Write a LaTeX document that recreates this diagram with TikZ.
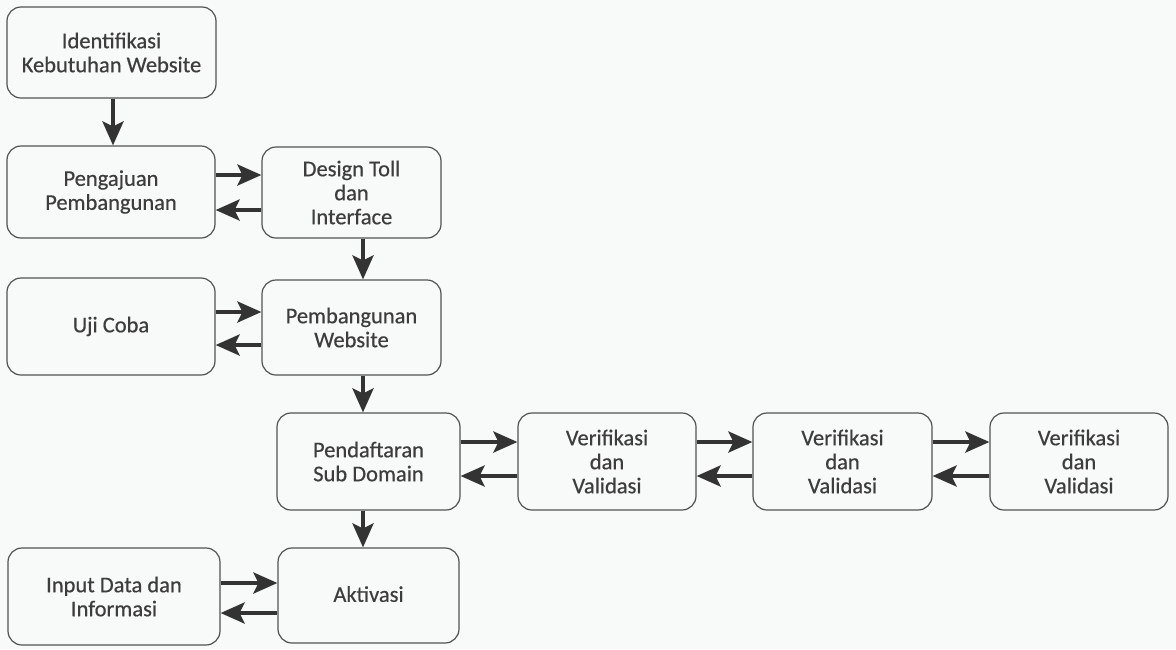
\documentclass[tikz,border=0pt]{standalone}
\usepackage{fontspec}
\setmainfont{Carlito}
\newfontfamily\boxfont{Carlito}[FakeBold=0.5]
\usetikzlibrary{arrows.meta}
\definecolor{ink}{HTML}{333333}
\definecolor{bg}{HTML}{F8FAFA}
\begin{document}
\begin{tikzpicture}[x=1pt,y=-1pt,
  box/.style={draw=ink!85, line width=1.2pt, rounded corners=14pt, fill=bg,
    inner sep=0pt, align=center, text=ink!95,
    font=\boxfont\fontsize{22.5}{24}\selectfont},
  arr/.style={draw=ink, line width=4pt,
    -{Stealth[length=24pt,width=21pt,inset=5pt]}}]
\fill[bg] (0,0) rectangle (1176,649);
\useasboundingbox (0,0) rectangle (1176,649);
\node[box, minimum width=209pt, minimum height=91pt] (ident) at (111.5,52.5) {Identifikasi\\Kebutuhan Website};
\node[box, minimum width=208pt, minimum height=92pt] (peng) at (111,192) {Pengajuan\\Pembangunan};
\node[box, minimum width=179pt, minimum height=91pt] (design) at (351.5,192.5) {Design Toll\\dan\\Interface};
\node[box, minimum width=208pt, minimum height=97pt] (uji) at (111,326.5) {\raisebox{4pt}{Uji Coba}};
\node[box, minimum width=179pt, minimum height=95pt] (pemb) at (351.5,327.5) {Pembangunan\\Website};
\node[box, minimum width=183pt, minimum height=97pt] (pend) at (368.5,461.5) {Pendaftaran\\Sub Domain};
\node[box, minimum width=178pt, minimum height=97pt] (v1) at (607,461.5) {Verifikasi\\dan\\Validasi};
\node[box, minimum width=179pt, minimum height=97pt] (v2) at (842.5,461.5) {Verifikasi\\dan\\Validasi};
\node[box, minimum width=178pt, minimum height=97pt] (v3) at (1079,461.5) {Verifikasi\\dan\\Validasi};
\node[box, minimum width=212pt, minimum height=97pt] (input) at (114,596.5) {Input Data dan\\Informasi};
\node[box, minimum width=181pt, minimum height=95pt] (akt) at (368.5,595.5) {\raisebox{3pt}{Aktivasi}};
\coordinate (col) at (363,0);
\coordinate (c1) at (113,0);
% vertical
\draw[arr] (ident.south -| c1) -- (peng.north -| c1);
\draw[arr] (design.south -| col) -- (pemb.north -| col);
\draw[arr] (pemb.south -| col) -- (pend.north -| col);
\draw[arr] (pend.south -| col) -- (akt.north -| col);
% horizontal pairs
\coordinate (r1a) at (0,175); \coordinate (r1b) at (0,210);
\draw[arr] (peng.east |- r1a) -- (design.west |- r1a);
\draw[arr] (design.west |- r1b) -- (peng.east |- r1b);
\coordinate (r2a) at (0,312); \coordinate (r2b) at (0,345);
\draw[arr] (uji.east |- r2a) -- (pemb.west |- r2a);
\draw[arr] (pemb.west |- r2b) -- (uji.east |- r2b);
\coordinate (r3a) at (0,442); \coordinate (r3b) at (0,476);
\draw[arr] (pend.east |- r3a) -- (v1.west |- r3a);
\draw[arr] (v1.west |- r3b) -- (pend.east |- r3b);
\draw[arr] (v1.east |- r3a) -- (v2.west |- r3a);
\draw[arr] (v2.west |- r3b) -- (v1.east |- r3b);
\draw[arr] (v2.east |- r3a) -- (v3.west |- r3a);
\draw[arr] (v3.west |- r3b) -- (v2.east |- r3b);
\coordinate (r4a) at (0,583); \coordinate (r4b) at (0,613);
\draw[arr] (input.east |- r4a) -- (akt.west |- r4a);
\draw[arr] (akt.west |- r4b) -- (input.east |- r4b);
\end{tikzpicture}
\end{document}
